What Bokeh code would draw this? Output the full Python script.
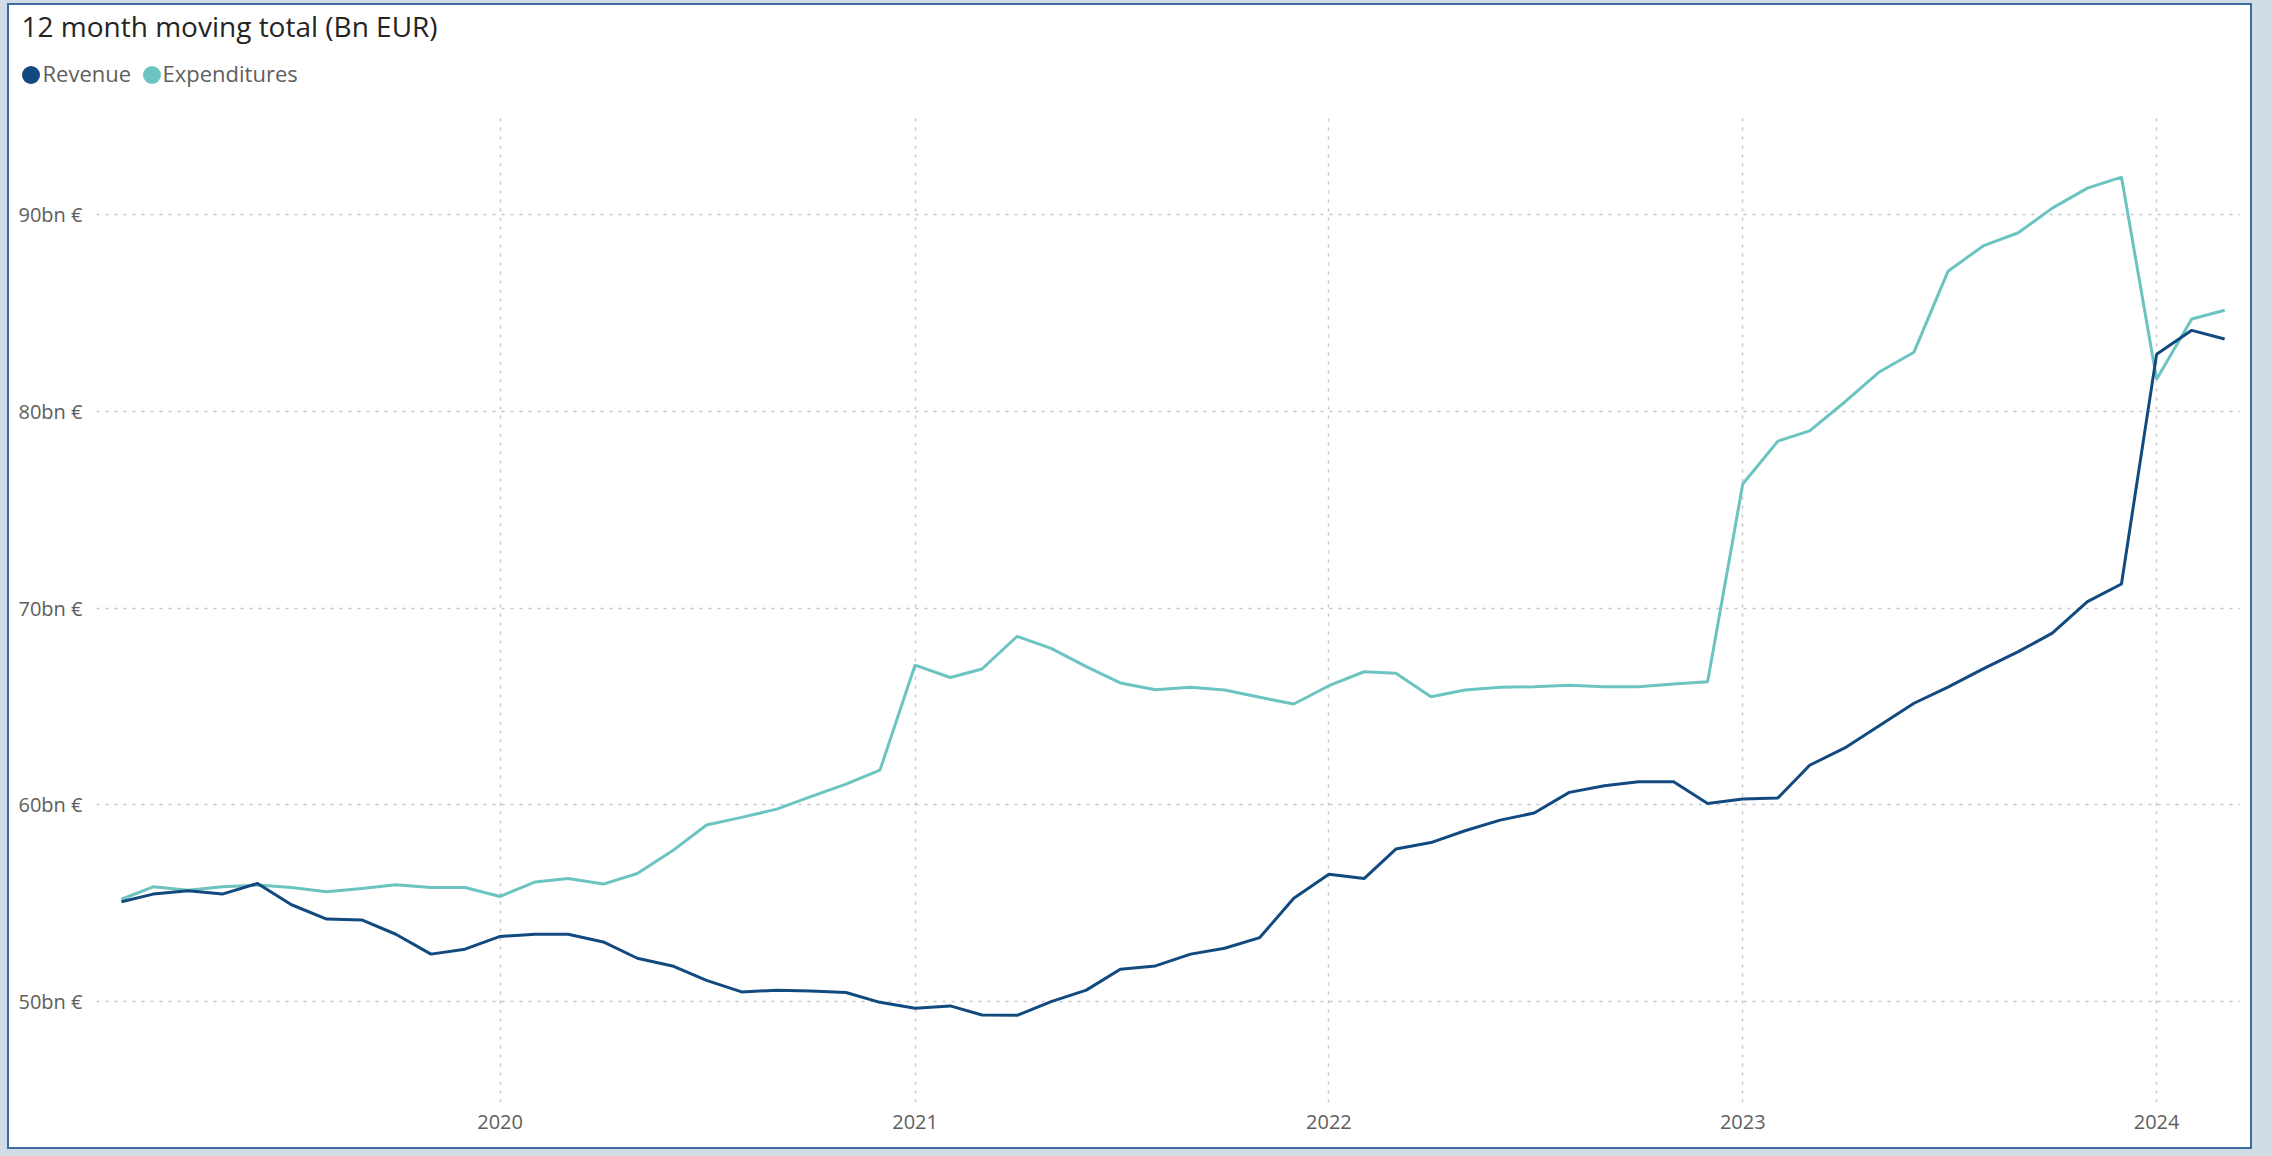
import pandas as pd
from bokeh.plotting import figure
from bokeh.models import (ColumnDataSource, Range1d, FixedTicker, DatetimeTickFormatter,
                          Legend, LegendItem, Label)
from bokeh.layouts import column
from bokeh.embed import file_html
from bokeh.resources import INLINE

# ---------------- data ----------------
months = pd.date_range("2019-02-01", "2024-03-01", freq="MS")

revenue = [
    55.07, 55.46, 55.63, 55.46, 56.00, 54.92, 54.19, 54.15, 53.42, 52.41, 52.66,          # 2019
    53.31, 53.42, 53.42, 53.03, 52.20, 51.81, 51.08, 50.49, 50.58, 50.54, 50.46, 49.96,   # 2020
    49.66, 49.78, 49.32, 49.30, 50.00, 50.58, 51.64, 51.81, 52.41, 52.71, 53.25, 55.25,   # 2021
    56.47, 56.25, 57.75, 58.08, 58.68, 59.22, 59.58, 60.63, 60.97, 61.17, 61.17, 60.07,   # 2022
    60.29, 60.35, 62.01, 62.89, 64.00, 65.16, 65.98, 66.91, 67.78, 68.72, 70.32, 71.22,   # 2023
    82.89, 84.11, 83.67,                                                                  # 2024
]
expenditures = [
    55.20, 55.83, 55.66, 55.83, 55.92, 55.80, 55.58, 55.75, 55.93, 55.80, 55.80,          # 2019
    55.34, 56.08, 56.25, 55.97, 56.51, 57.66, 58.97, 59.36, 59.78, 60.41, 61.05, 61.76,   # 2020
    67.10, 66.47, 66.90, 68.56, 67.95, 67.02, 66.19, 65.85, 65.97, 65.83, 65.46, 65.12,   # 2021
    66.05, 66.76, 66.69, 65.49, 65.83, 65.97, 66.00, 66.08, 66.00, 66.00, 66.14, 66.25,   # 2022
    76.30, 78.48, 79.00, 80.47, 81.98, 83.00, 87.11, 88.40, 89.07, 90.32, 91.34, 91.90,   # 2023
    81.63, 84.69, 85.13,                                                                  # 2024
]
series_names = ["Revenue", "Expenditures"]
y_ticks = [50, 60, 70, 80, 90]
y_tick_labels = ["50bn €", "60bn €", "70bn €", "80bn €", "90bn €"]
x_tick_years = ["2020", "2021", "2022", "2023", "2024"]

title_text = "12 month moving total (Bn EUR)"

# ---------------- styles ----------------
REV_COLOR = "#124A80"
EXP_COLOR = "#6CC4C0"
FONT = "Open Sans"
LABEL_COLOR = "#605E5C"
GRID_COLOR = "#C6C6C6"
CARD_W = 2241
HEADER_H = 103
MAIN_H = 1039
LEGEND_X = [-1.5, 119.5]      # legend glyph boxes (screen px)
LEGEND_TEXT_X = [33, 153]     # legend label text starts (screen px)
TITLE_Y = 82.5                # screen px from header bottom
LEGEND_TEXT_Y = 35.3          # screen px from header bottom

src = ColumnDataSource(data=dict(month=months, revenue=revenue, expenditures=expenditures))
x_ticks_ms = [pd.Timestamp(f"{y}-01-01").value / 1e6 for y in x_tick_years]

# ---------------- header (title + legend) ----------------
header = figure(
    width=CARD_W, height=HEADER_H, title=None,
    x_range=Range1d(0, 1), y_range=Range1d(0, 1),
    x_axis_location=None, y_axis_location=None,
    output_backend="svg", toolbar_location=None,
    min_border_left=0, min_border_right=0, min_border_top=0, min_border_bottom=0,
)
header.frame_align = False
header.grid.visible = False
header.outline_line_color = None
header.background_fill_color = "white"
header.border_fill_color = "white"

header.add_layout(Label(
    x=12, y=TITLE_Y, x_units="screen", y_units="screen",
    text=title_text, text_font=FONT, text_font_size="28px", text_color="#252423",
    text_baseline="alphabetic", text_align="left",
))

# point renderers (zero size) used only for circular legend glyphs
m_rev = header.scatter(x="month", y="revenue", source=src, size=0,
                       fill_color=REV_COLOR, line_alpha=0)
m_exp = header.scatter(x="month", y="expenditures", source=src, size=0,
                       fill_color=EXP_COLOR, line_alpha=0)

legend_common = dict(
    orientation="horizontal", glyph_width=45, glyph_height=45, label_standoff=0,
    label_width=0, spacing=0, padding=0, margin=0, border_line_alpha=0,
    background_fill_alpha=0, label_text_font=FONT, label_text_font_size="22px",
    label_text_color=LABEL_COLOR,
)
for rend, lx, name, tx in zip([m_rev, m_exp], LEGEND_X, series_names, LEGEND_TEXT_X):
    header.add_layout(Legend(items=[LegendItem(label=" ", renderers=[rend])],
                             location=(lx, 11.5), **legend_common), "center")
    header.add_layout(Label(
        x=tx, y=LEGEND_TEXT_Y, x_units="screen", y_units="screen", text=name,
        text_font=FONT, text_font_size="22px", text_color=LABEL_COLOR,
        text_baseline="alphabetic", text_align="left",
    ))

# ---------------- main chart ----------------
p = figure(
    width=CARD_W, height=MAIN_H, title=None,
    x_axis_type="datetime",
    x_range=Range1d(pd.Timestamp("2019-01-10"), pd.Timestamp("2024-03-15")),
    y_range=Range1d(44.87, 95.13),
    output_backend="svg", toolbar_location=None,
    min_border_left=87, min_border_right=10, min_border_top=5, min_border_bottom=45,
)
p.frame_align = False
p.outline_line_color = None
p.background_fill_color = "white"
p.border_fill_color = "white"

r_exp = p.line(x="month", y="expenditures", source=src, line_color=EXP_COLOR, line_width=3)
r_rev = p.line(x="month", y="revenue", source=src, line_color=REV_COLOR, line_width=3)

p.yaxis.ticker = FixedTicker(ticks=y_ticks)
p.yaxis.major_label_overrides = dict(zip(y_ticks, y_tick_labels))
p.xaxis.ticker = FixedTicker(ticks=x_ticks_ms)
p.xaxis.formatter = DatetimeTickFormatter(years="%Y", months="%Y", days="%Y")
for ax in (p.xaxis, p.yaxis):
    ax.axis_line_color = None
    ax.major_tick_line_color = None
    ax.minor_tick_line_color = None
    ax.major_label_text_font = FONT
    ax.major_label_text_font_size = "20px"
    ax.major_label_text_color = LABEL_COLOR
p.yaxis.major_label_standoff = 8
p.xaxis.major_label_standoff = 6

for g in (p.xgrid, p.ygrid):
    g.grid_line_color = GRID_COLOR
    g.grid_line_dash = "3 6"
    g.grid_line_width = 1.5
p.xgrid.ticker = FixedTicker(ticks=x_ticks_ms)
p.ygrid.ticker = FixedTicker(ticks=y_ticks)

card = column(header, p, spacing=0,
              styles={"border": "2px solid #3D6CA3", "margin": "3px 0px 0px 7px",
                      "background-color": "white"})
root = column(card, width=2272, height=1156, styles={"background-color": "#D0DCE6"})

with open("out.html", "w") as f:
    f.write(file_html(root, INLINE))
